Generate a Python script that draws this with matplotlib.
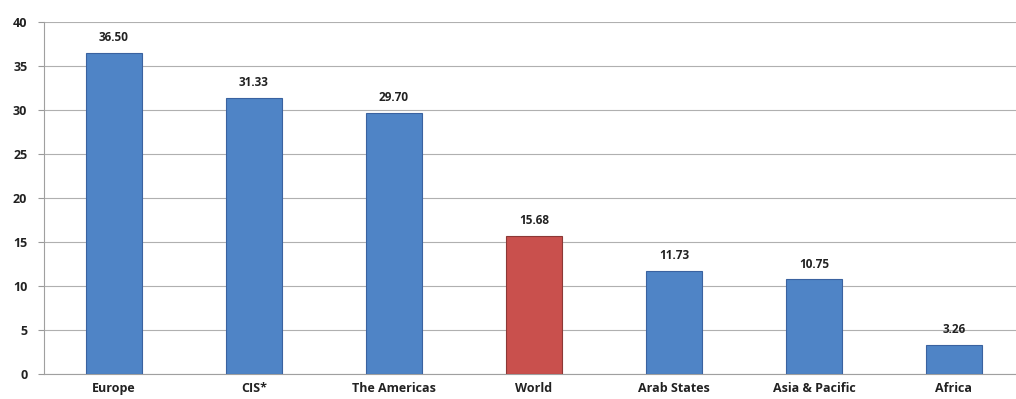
import matplotlib.pyplot as plt

regions = ["Europe", "CIS*", "The Americas", "World", "Arab States", "Asia & Pacific", "Africa"]
values = [36.50, 31.33, 29.70, 15.68, 11.73, 10.75, 3.26]
highlight = "World"

plt.rcParams['font.family'] = ['Open Sans', 'DejaVu Sans']

fig = plt.figure(figsize=(10.16, 3.99), dpi=100)
ax = fig.add_axes([0.0433, 0.0627, 0.9567, 0.8822])

colors = ["#C9504D" if r == highlight else "#4F84C6" for r in regions]
edges = ["#8C3836" if r == highlight else "#3A62A0" for r in regions]
x = range(len(regions))
bars = ax.bar(x, values, width=0.4, color=colors, edgecolor=edges, linewidth=0.8, zorder=3)

for b, v in zip(bars, values):
    ax.text(b.get_x() + b.get_width() / 2, v + 1.0, "%.2f" % v,
            ha='center', va='bottom', fontsize=8.5, fontweight='bold', color='#222222')

ax.set_xlim(-0.5, 6.443)
ax.set_ylim(0, 40)
ax.set_yticks(range(0, 41, 5))
ax.set_xticks(list(x))
ax.set_xticklabels(regions, fontsize=9, fontweight='bold', color='#222222')
ax.tick_params(axis='y', labelsize=9, length=4, color='#999999', pad=8, labelcolor='#222222')
ax.tick_params(axis='x', length=0, pad=6)
for lab in ax.get_yticklabels():
    lab.set_fontweight('bold')

ax.grid(axis='y', color='#B0B0B0', linewidth=0.8, zorder=0)
for s in ['top', 'right']:
    ax.spines[s].set_visible(False)
ax.spines['left'].set_color('#A0A0A0')
ax.spines['bottom'].set_color('#A0A0A0')

plt.savefig("out.png", dpi=100)
plt.close()
